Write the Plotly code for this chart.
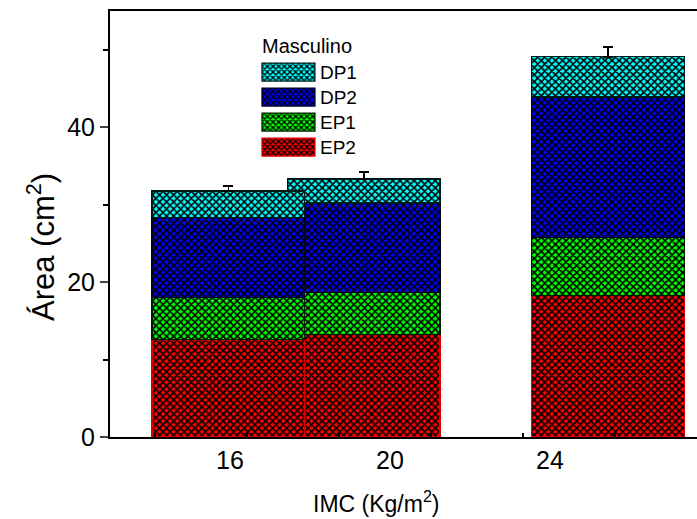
import plotly.graph_objects as go

# Data (bar order chosen so the 16 bar is drawn over the 20 bar where they overlap)
x_pos = [19.34, 15.96, 25.45]          # bar centres on the IMC axis
ep2 = [13.25, 12.6, 18.3]
ep1 = [5.45, 5.4, 7.5]
dp2 = [11.5, 10.3, 18.1]
dp1 = [3.11, 3.46, 5.2]
err_up = [0.95, 0.6, 1.3]
series_names = ["EP2", "EP1", "DP2", "DP1"]
series_vals = [ep2, ep1, dp2, dp1]
series_colors = ["#ff0000", "#00ff00", "#0000ff", "#00ffff"]
line_colors = ["#e00000", "#001800", "#000018", "#001818"]
x_ticks = [16, 20, 24]
x_minor = [14.125, 16.425, 18.725, 21.025, 23.325, 25.625]
y_major = [0, 20, 40]
y_minor = [10, 30, 50]

BAR_W = 3.82
FONT = "Liberation Sans, Arial, sans-serif"

fig = go.Figure()
for name, vals, col, lc in zip(series_names, series_vals, series_colors, line_colors):
    kw = {}
    if name == "DP1":
        kw["error_y"] = dict(type="data", array=err_up, arrayminus=[0, 0, 0], symmetric=False,
                             color="black", thickness=1.8, width=5)
    fig.add_trace(go.Bar(
        x=x_pos, y=vals, name=name, width=BAR_W,
        marker=dict(color=col,
                    line=dict(color=lc, width=1.2),
                    pattern=dict(shape="x", fgcolor="black", bgcolor=col, size=5, solidity=0.55,
                                 fillmode="replace")),
        **kw))

fig.update_layout(
    width=697, height=519,
    margin=dict(l=110, r=0, t=11, b=82),
    barmode="stack",
    plot_bgcolor="white", paper_bgcolor="white",
    font=dict(family=FONT, color="black"),
    showlegend=True,
    legend=dict(x=0.2555, y=0.962, xanchor="left", yanchor="top",
                traceorder="reversed", bgcolor="rgba(0,0,0,0)",
                font=dict(size=19, family=FONT),
                title=dict(text="Masculino", font=dict(size=20, family=FONT)),
                itemwidth=50, tracegroupgap=0),
    xaxis=dict(range=[13, 13 + 587 / 40], tickvals=x_ticks, ticktext=[str(v) for v in x_ticks],
               ticks="", showline=True, linecolor="black", linewidth=2, mirror=True,
               showgrid=False, zeroline=False, tickfont=dict(size=25),
               minor=dict(tickvals=x_minor, ticks="inside", ticklen=4, tickwidth=1.5,
                          tickcolor="black", showgrid=False)),
    yaxis=dict(range=[0, 55], tickvals=y_major, ticks="outside", ticklen=8, tickwidth=2,
               showline=True, linecolor="black", linewidth=2, showgrid=False, zeroline=False,
               tickfont=dict(size=25),
               minor=dict(tickvals=y_minor, ticks="outside", ticklen=5, tickwidth=2,
                          tickcolor="black", showgrid=False)),
)
fig.add_annotation(text="IMC (Kg/m<sup>2</sup>)", xref="paper", yref="paper",
                   x=(376 - 110) / 587, y=-(502 - 437) / 426, xanchor="center", yanchor="middle",
                   showarrow=False, font=dict(size=23, family=FONT))
fig.add_annotation(text="Área (cm<sup>2</sup>)", xref="paper", yref="paper",
                   x=-(110 - 41) / 587, y=(437 - 247) / 426, xanchor="center", yanchor="middle",
                   textangle=-90, showarrow=False, font=dict(size=31, family=FONT))

# Legend swatches: widen to 53x18 boxes and set rows 25 px apart, like the reference
post_js = """
var gd = document.getElementById('{plot_id}');
function fixLegend(){
  var items = gd.querySelectorAll('g.legend g.traces');
  var b0 = null;
  items.forEach(function(tr, i){
    var m = /translate\\(([-\\d.]+)[ ,]+([-\\d.]+)\\)/.exec(tr.getAttribute('transform') || '');
    if (m) {
      var a = parseFloat(m[1]), b = parseFloat(m[2]);
      if (tr.dataset.y0 === undefined) tr.dataset.y0 = b;
      b = parseFloat(tr.dataset.y0);
      if (b0 === null) b0 = b;
      tr.setAttribute('transform', 'translate(' + a + ',' + (b0 + i * 25) + ')');
    }
    var p = tr.querySelector('g.legendpoints path');
    var t = tr.querySelector('text.legendtext');
    if (!p || !t) return;
    p.setAttribute('d', 'M6,6H-6V-6H6Z');
    var pr = p.getBoundingClientRect(), trc = t.getBoundingClientRect();
    var cx = (pr.left + pr.right) / 2;
    var dx = (trc.left - 5 - 26.5) - cx;
    var L = dx - 26.5, R = dx + 26.5;
    p.setAttribute('d', 'M' + R + ',9H' + L + 'V-9H' + R + 'Z');
  });
}
fixLegend();
if (gd.on) gd.on('plotly_afterplot', fixLegend);
"""

fig.write_html("out.html", post_script=post_js)
